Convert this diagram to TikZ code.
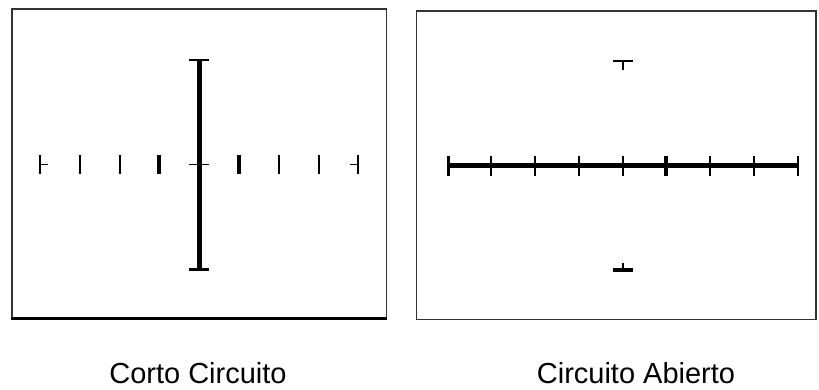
\documentclass[tikz,border=0pt]{standalone}
\usepackage{fontspec}
\setmainfont{Liberation Sans}
\tikzset{
  frame/.style={draw=black!80, line width=1.4pt},
  tick/.style={draw=black, line width=1.3pt},
  heavytick/.style={draw=black, line width=3.4pt},
  trace/.style={draw=black, line width=5pt},
  caption/.style={font=\fontsize{29}{32}\selectfont, anchor=base}
}
\begin{document}
\begin{tikzpicture}[x=1pt, y=-1pt]
  \useasboundingbox (0,0) rectangle (819,389);

  % ---- left screen: short circuit ----
  \draw[frame] (12,9) rectangle (386.5,318);
  \draw[draw=black, line width=3pt] (11.3,318.5) -- (387.2,318.5);
  % horizontal graticule ticks
  \foreach \x in {80,120,279,319}
    \draw[tick] (\x,155) -- (\x,174);
  \foreach \x in {159,239}
    \draw[heavytick] (\x,155) -- (\x,174);
  \draw[tick] (40,155) -- (40,174);
  \draw[tick] (40,164.5) -- (48,164.5);
  \draw[tick] (358,155) -- (358,174);
  \draw[tick] (350,164.5) -- (358,164.5);
  \draw[tick] (189,164.5) -- (209,164.5);
  % vertical trace with end caps
  \draw[trace] (199,59) -- (199,270);
  \draw[draw=black, line width=2pt] (189,59.5) -- (209,59.5);
  \draw[draw=black, line width=3.5pt] (189,269.5) -- (209,269.5);

  % ---- right screen: open circuit ----
  \draw[frame] (416.5,11) rectangle (816,319.5);
  % horizontal trace with graticule ticks
  \draw[trace] (448,165) -- (798,165);
  \foreach \x in {491,535,579,623,710,754,798}
    \draw[tick] (\x,156) -- (\x,176);
  \foreach \x in {448.5,666}
    \draw[heavytick] (\x,156) -- (\x,176);
  % vertical graticule end marks
  \draw[draw=black, line width=2pt] (613,61) -- (633,61);
  \draw[tick] (623,61) -- (623,70);
  \draw[tick] (623,263) -- (623,270);
  \draw[draw=black, line width=3.2pt] (613,270) -- (633,270);

  % ---- captions ----
  \node[caption] (shortlbl) at (198,383) {Corto Circuito};
  \node[caption] (openlbl) at (636,383) {Circuito Abierto};
\end{tikzpicture}
\end{document}
